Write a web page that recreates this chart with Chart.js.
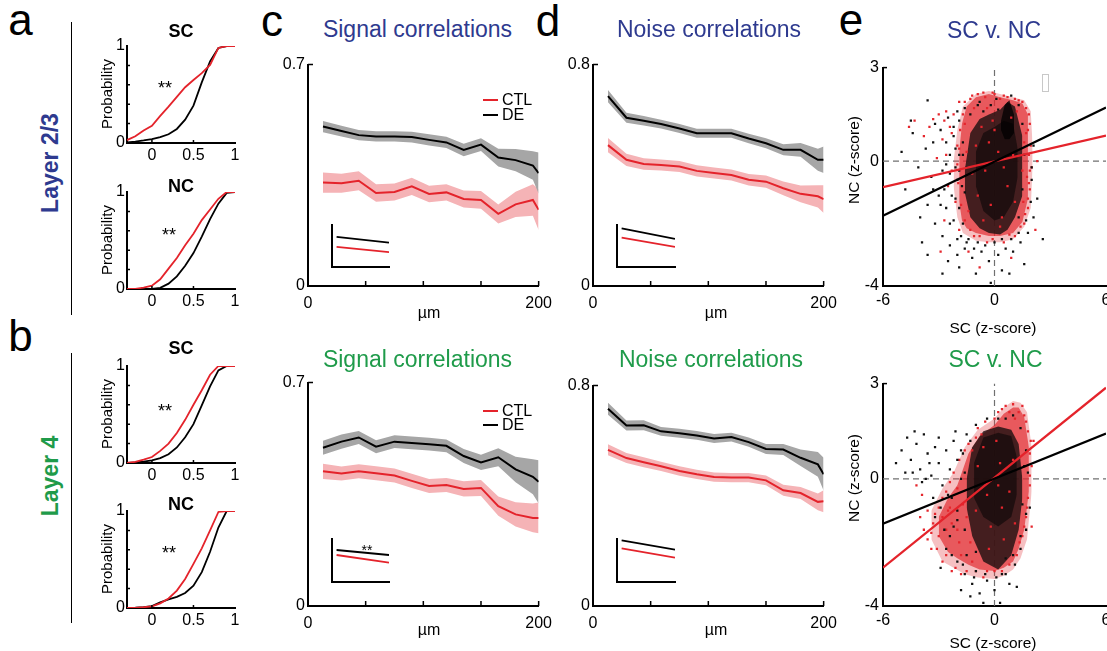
<!DOCTYPE html>
<html>
<head>
<meta charset="utf-8">
<script src="https://cdn.jsdelivr.net/npm/chart.js@4.4.1/dist/chart.umd.min.js"></script>
<style>
body { margin: 0; background: #fff; overflow: hidden; }
#fig { position: relative; width: 1107px; height: 651px; overflow: hidden; background: #fff;
       font-family: 'Liberation Sans', Arial, Helvetica, sans-serif; color: #000; }
.t { position: absolute; white-space: nowrap; line-height: 1; }
canvas { position: absolute; }
.vline { position: absolute; width: 1px; background: #000; }
</style>
</head>
<body>
<div id="fig"></div>
<script>
// ---- CDF 数据 (a, b) ----
const cdfX = [-0.3, -0.2, -0.1, 0, 0.1, 0.2, 0.3, 0.4, 0.5, 0.6, 0.7, 0.8, 0.9, 1.0];
const cdfScCtlL23 = [0.03, 0.07, 0.13, 0.178, 0.28, 0.375, 0.475, 0.575, 0.65, 0.72, 0.805, 0.98, 1, 1];
const cdfScDeL23  = [0.005, 0.015, 0.027, 0.041, 0.06, 0.09, 0.145, 0.24, 0.385, 0.625, 0.84, 0.98, 1, 1];
const cdfNcCtlL23 = [0, 0.002, 0.015, 0.035, 0.1, 0.21, 0.32, 0.45, 0.57, 0.71, 0.82, 0.93, 1, 1];
const cdfNcDeL23  = [0, 0, 0, 0.002, 0.012, 0.055, 0.13, 0.24, 0.37, 0.54, 0.72, 0.88, 0.99, 1];
const cdfScCtlL4  = [0, 0.012, 0.035, 0.062, 0.125, 0.2, 0.31, 0.445, 0.6, 0.75, 0.91, 1, 1, 1];
const cdfScDeL4   = [0, 0.005, 0.015, 0.028, 0.05, 0.09, 0.16, 0.265, 0.4, 0.595, 0.79, 0.955, 1, 1];
const cdfNcCtlL4  = [0, 0.002, 0.008, 0.017, 0.048, 0.098, 0.18, 0.3, 0.455, 0.615, 0.8, 0.99, 1, 1];
const cdfNcDeL4   = [0, 0.003, 0.01, 0.02, 0.058, 0.088, 0.115, 0.155, 0.23, 0.37, 0.58, 0.83, 1, 1];

// ---- 距离相关 (c, d) ----
const distUm = [13, 29, 44, 59, 75, 90, 105, 120, 135, 150, 165, 180, 195, 200];
const sigDeL23     = [0.504, 0.490, 0.477, 0.473, 0.473, 0.471, 0.462, 0.454, 0.430, 0.447, 0.406, 0.398, 0.381, 0.357];
const sigDeL23Err  = [0.018, 0.017, 0.016, 0.016, 0.016, 0.017, 0.018, 0.018, 0.02, 0.02, 0.028, 0.035, 0.045, 0.065];
const sigCtlL23    = [0.327, 0.325, 0.333, 0.294, 0.297, 0.315, 0.291, 0.296, 0.275, 0.272, 0.228, 0.258, 0.272, 0.241];
const sigCtlL23Err = [0.032, 0.03, 0.03, 0.028, 0.027, 0.027, 0.026, 0.026, 0.027, 0.028, 0.03, 0.04, 0.05, 0.065];
const noiseDeL23     = [0.686, 0.608, 0.597, 0.585, 0.569, 0.552, 0.552, 0.552, 0.533, 0.516, 0.492, 0.492, 0.456, 0.456];
const noiseDeL23Err  = [0.022, 0.018, 0.017, 0.016, 0.016, 0.016, 0.016, 0.016, 0.017, 0.018, 0.02, 0.025, 0.04, 0.048];
const noiseCtlL23    = [0.509, 0.456, 0.441, 0.437, 0.432, 0.416, 0.408, 0.401, 0.384, 0.377, 0.353, 0.333, 0.324, 0.314];
const noiseCtlL23Err = [0.026, 0.022, 0.021, 0.02, 0.02, 0.02, 0.02, 0.02, 0.021, 0.022, 0.025, 0.03, 0.04, 0.05];
const sigDeL4     = [0.496, 0.515, 0.528, 0.499, 0.515, 0.511, 0.507, 0.502, 0.470, 0.450, 0.466, 0.428, 0.405, 0.389];
const sigDeL4Err  = [0.022, 0.022, 0.02, 0.02, 0.02, 0.02, 0.02, 0.02, 0.022, 0.024, 0.028, 0.04, 0.055, 0.068];
const sigCtlL4    = [0.422, 0.415, 0.422, 0.416, 0.409, 0.392, 0.376, 0.379, 0.367, 0.370, 0.313, 0.287, 0.276, 0.276];
const sigCtlL4Err = [0.024, 0.022, 0.022, 0.022, 0.022, 0.022, 0.022, 0.022, 0.024, 0.025, 0.03, 0.038, 0.045, 0.048];
const noiseDeL4     = [0.716, 0.655, 0.656, 0.634, 0.627, 0.619, 0.608, 0.613, 0.595, 0.570, 0.568, 0.538, 0.514, 0.478];
const noiseDeL4Err  = [0.022, 0.018, 0.018, 0.016, 0.016, 0.016, 0.016, 0.016, 0.017, 0.018, 0.02, 0.03, 0.045, 0.06];
const noiseCtlL4    = [0.567, 0.537, 0.522, 0.507, 0.490, 0.478, 0.468, 0.466, 0.466, 0.456, 0.420, 0.410, 0.378, 0.380];
const noiseCtlL4Err = [0.02, 0.018, 0.018, 0.017, 0.017, 0.017, 0.017, 0.017, 0.017, 0.018, 0.02, 0.022, 0.03, 0.04];

// 小插图 (斜率示意)
const insetX = [0.08, 1];
const insetSigL23   = { de: [0.716, 0.58], ctl: [0.48, 0.355] };
const insetNoiseL23 = { de: [0.92, 0.67], ctl: [0.70, 0.48] };
const insetSigL4    = { de: [0.744, 0.628], ctl: [0.628, 0.449] };
const insetNoiseL4  = { de: [0.967, 0.753], ctl: [0.781, 0.565] };

// ---- SC v. NC 散点 (e) ----
const fitX = [-6, 6];
const fitDeL23 = [-1.75, 1.72];
const fitCtlL23 = [-0.83, 0.82];
const fitDeL4 = [-1.41, 1.43];
const fitCtlL4 = [-2.79, 2.87];

// 点密度轮廓 (x, 上沿, 下沿)，由外到内
const envOutL23X  = [-2.2, -2.0, -1.7, -1.0, -0.3, 0.3, 1.0, 1.6, 1.95, 2.05];
const envOutL23Hi = [0.0, 1.0, 1.75, 2.15, 2.25, 2.15, 2.05, 1.95, 1.6, 0.5];
const envOutL23Lo = [-0.8, -1.8, -2.3, -2.55, -2.6, -2.6, -2.5, -2.1, -1.5, -0.2];
const envCtlL23X  = [-1.9, -1.75, -1.5, -1.0, -0.3, 0.3, 1.0, 1.5, 1.8];
const envCtlL23Hi = [0.3, 1.2, 1.75, 2.05, 2.15, 2.05, 1.95, 1.85, 1.5];
const envCtlL23Lo = [-1.3, -1.9, -2.15, -2.3, -2.4, -2.4, -2.3, -1.95, -1.2];
const coreDeL23X  = [-1.6, -1.3, -0.8, -0.3, 0.3, 0.7, 1.1, 1.5];
const coreDeL23Hi = [-0.3, 0.9, 1.35, 1.5, 1.65, 1.9, 1.75, 0.8];
const coreDeL23Lo = [-1.0, -1.8, -2.15, -2.3, -2.35, -2.2, -1.8, -1.1];
const innerDeL23X  = [-1.0, -0.6, 0.0, 0.5, 1.0, 1.25];
const innerDeL23Hi = [0.3, 0.9, 1.1, 1.3, 1.2, 0.4];
const innerDeL23Lo = [-0.8, -1.6, -1.9, -1.8, -1.3, -0.5];
const spikeDeL23X  = [0.35, 0.55, 0.8, 1.05];
const spikeDeL23Hi = [1.3, 1.8, 1.95, 1.5];
const spikeDeL23Lo = [1.0, 0.7, 0.7, 0.9];

const envOutL4X  = [-3.4, -2.8, -2.2, -1.6, -0.9, 0.0, 0.5, 1.0, 1.4, 1.75, 2.0];
const envOutL4Hi = [-1.0, -0.3, 0.2, 1.0, 1.55, 1.9, 2.25, 2.45, 2.4, 2.1, 1.0];
const envOutL4Lo = [-1.9, -2.6, -2.8, -3.0, -3.1, -3.15, -3.05, -2.85, -2.5, -1.9, -0.4];
const envCtlL4X  = [-3.0, -2.5, -2.0, -1.4, -0.8, 0.0, 0.5, 1.0, 1.3, 1.6, 1.85];
const envCtlL4Hi = [-1.2, -0.6, -0.2, 0.8, 1.35, 1.7, 2.05, 2.25, 2.25, 1.95, 1.0];
const envCtlL4Lo = [-1.8, -2.3, -2.5, -2.7, -2.85, -2.9, -2.8, -2.6, -2.2, -1.6, -0.4];
const coreDeL4X  = [-1.5, -1.2, -0.6, 0.2, 0.9, 1.3, 1.5];
const coreDeL4Hi = [0.0, 1.0, 1.5, 1.65, 1.55, 1.1, 0.0];
const coreDeL4Lo = [-0.9, -1.8, -2.6, -2.85, -2.4, -1.6, -0.6];
const innerDeL4X  = [-1.1, -0.6, 0.2, 0.9, 1.2];
const innerDeL4Hi = [0.5, 1.3, 1.45, 1.35, 0.7];
const innerDeL4Lo = [-0.6, -1.2, -1.5, -1.2, -0.5];

const dotsDeL23 = [[-3.6,1.95],[-4.5,1.3],[-3.2,1.2],[-2.9,1.0],[-2.5,1.4],[-2.2,0.8],[-3.7,0.4],[-4.1,-0.2],[-3.4,-0.5],[-2.8,-0.3],
  [-2.4,0.2],[-2.0,-0.6],[-3.0,-1.1],[-3.6,-1.4],[-4.0,-1.8],[-2.6,-1.5],[-2.2,-1.9],[-3.2,-2.0],[-2.8,-2.4],[-3.9,-2.6],
  [-2.4,-2.7],[-2.0,-3.0],[-1.6,-2.8],[-1.2,-3.1],[-0.7,-2.9],[-0.3,-3.2],[0.2,-3.0],[0.6,-2.8],[1.0,-2.9],[1.4,-2.6],
  [1.8,-2.3],[2.1,-1.8],[2.3,-1.2],[2.0,-0.6],[-1.0,-3.6],[-2.8,-3.6],[1.6,-3.3],[0.8,-3.6],[-0.2,-3.9],[-4.8,-0.9],
  [-5.0,0.3],[-2.0,1.6],[-1.8,-2.4],[-1.4,-2.5],[-4.4,0.9],[-3.3,0.6],[-2.6,0.6],[-1.9,0.2],[-2.3,-1.1],[-1.9,-1.5],
  [2.6,-2.5],[-3.6,-3.0],[-1.9,-3.4],[0.4,-3.5],[-0.8,1.9],[-0.2,1.8],[0.2,1.65],[-1.3,1.5],[1.5,1.2],[1.6,0.2],
  [1.5,-0.9],[1.3,-1.8],[-1.6,-1.0],[-1.5,-0.2],[-1.7,0.6],[-0.6,1.6],[-2.1,-0.2],[-2.7,-0.9],[-1.7,-2.0],[0.0,-2.6],
  [-1.9,1.3],[-2.2,1.1],[-2.1,0.4],[-2.4,-0.4],[-2.1,-1.2],[-2.4,-2.0],[-2.0,-2.5],[-1.5,-2.6],[-0.9,-2.6],[-0.5,-2.7],
  [0.4,-2.5],[0.9,-2.5],[1.3,-2.3],[1.7,-1.9],[1.95,-1.3],[2.0,-0.2],[2.1,0.5],[-1.9,-0.3],[-1.75,-0.8],[-1.7,0.2],
  [-1.6,1.7],[-0.9,1.8],[0.1,2.0],[0.9,2.1],[1.3,1.8],[-2.6,-0.1],[-2.9,-1.4],[-3.3,-0.9],[-2.5,-3.2],[-1.1,-2.8]];
const dotsCtlL23 = [[-3.0,1.5],[-3.3,1.35],[-2.7,1.3],[-2.4,1.1],[-2.8,0.7],[-3.5,1.1],[-2.2,1.5],[-1.9,1.9],[-2.6,0.2],[-3.1,0.1],
  [-2.3,-0.3],[-2.5,-0.8],[-2.1,-1.3],[-2.7,-1.9],[-1.9,-2.2],[-4.3,1.3],[-4.6,1.1],[-3.8,0.8],[-1.2,2.1],[-0.6,2.2],
  [0.0,2.15],[0.5,2.1],[1.1,2.0],[1.5,1.9],[1.9,1.2],[1.95,0.5],[2.0,-0.2],[1.9,-0.9],[1.8,-1.5],[1.6,-2.0],
  [1.1,-2.4],[0.5,-2.6],[-0.4,-2.6],[-1.1,-2.4],[2.2,-2.2],[-1.4,-2.9],[0.9,-3.1],[-0.8,-3.4],[2.3,0.0],[-2.9,-2.9],
  [-1.0,0.5],[-0.5,-0.3],[0.2,0.3],[0.7,-0.8],[-0.2,-1.4],[0.4,-1.8],[-0.9,-1.1],[1.0,0.2],[0.0,1.0],[-0.7,1.1],
  [0.5,-0.2],[1.1,-1.3],[-1.2,-0.4],[-0.3,0.6],[1.7,0.9],[1.75,-0.5],[-1.6,1.2],[-2.0,0.5],
  [-1.6,1.9],[-1.3,2.0],[-0.9,2.15],[-0.5,2.05],[-0.1,2.2],[0.3,2.0],[0.7,2.05],[1.3,1.95],[1.7,1.7],[1.85,1.5],
  [1.8,1.0],[1.85,0.2],[1.9,-0.3],[1.85,-0.7],[1.8,-1.2],[1.65,-1.7],[1.4,-2.1],[-1.85,1.0],[-1.9,0.4],[-2.0,-0.1],
  [-1.95,-0.7],[-1.8,-1.4],[-1.6,-1.9],[-1.3,-2.2],[-0.8,-2.4],[-0.1,-2.5],[0.8,-2.35],[-2.3,0.9],[-2.6,1.6],[-1.7,1.5],
  [1.2,1.6],[0.9,1.4],[-0.4,1.7],[-1.1,1.7],[1.6,0.6],[1.5,-0.3],[1.55,-1.3],[-1.5,0.3],[-1.4,-1.6],[-0.6,-1.9],
  [0.3,-2.1],[-0.1,1.3]];
const dotsDeL4 = [[-5.0,0.9],[-4.7,1.3],[-4.5,0.6],[-4.2,1.1],[-4.0,0.3],[-3.8,1.4],[-3.6,0.8],[-3.4,0.1],[-3.2,1.0],[-3.0,0.5],
  [-2.8,-0.2],[-2.6,0.9],[-2.4,0.3],[-2.2,1.2],[-2.0,0.6],[-1.8,0.0],[-4.8,0.2],[-3.9,-0.1],[-5.3,0.5],[-4.3,1.5],
  [-3.0,1.3],[-2.5,-0.5],[-2.2,-1.5],[-2.6,-2.2],[-2.0,-2.6],[-1.6,-3.0],[-1.2,-3.3],[-0.8,-3.6],[-0.4,-3.2],[0.0,-3.5],
  [0.4,-3.0],[0.8,-3.3],[1.1,-2.7],[1.4,-2.2],[1.7,-1.6],[-1.8,-3.5],[-0.6,-3.9],[0.3,-3.9],[1.2,-3.4],[-2.9,-2.8],
  [-1.0,-2.9],[0.6,-2.5],[-1.5,-2.4],[1.9,-0.9],[-3.2,-1.2],[-2.9,-0.9],[0.6,1.9],[1.0,2.0],[1.4,1.6],[1.6,0.4],
  [1.5,-0.8],[-2.0,-1.0],[-1.6,-1.6],[-2.4,-1.8],[-1.0,-2.3],[0.2,1.9],[-1.7,0.8],[-3.5,0.5],[-4.4,0.2],[-1.3,-3.7],
  [-1.8,0.9],[-1.5,1.4],[-1.0,1.7],[-0.4,1.9],[-2.3,-0.6],[-2.0,-1.3],[-2.7,-1.6],[-2.3,-2.4],[-1.7,-2.7],[-1.1,-3.1],
  [-0.5,-3.0],[0.1,-3.1],[0.6,-3.0],[1.0,-2.4],[1.4,-1.8],[1.7,-1.1],[1.8,0.2],[1.7,0.9],[-1.6,0.2],[-1.4,-0.6],
  [-3.3,-0.6],[-3.7,0.0],[-2.1,1.5],[-1.3,1.2]];
const dotsCtlL4 = [[0.2,2.1],[0.6,2.3],[1.0,2.35],[1.3,2.1],[1.6,2.0],[1.8,1.5],[1.9,0.8],[1.9,0.1],[1.8,-0.6],[1.7,-1.2],
  [1.5,-1.8],[1.2,-2.4],[0.8,-2.7],[-0.5,1.8],[-1.0,1.3],[-1.6,0.9],[-2.2,0.2],[-2.6,-0.4],[-3.0,-0.9],[-3.3,-1.4],
  [-3.0,-1.8],[-2.6,-2.4],[-2.1,-2.8],[-1.5,-2.9],[-3.6,-1.0],[-3.8,-1.6],[-2.0,-0.3],[-1.7,-0.8],[-2.8,-1.2],[-2.3,-1.4],
  [-1.9,-2.0],[-3.4,-2.2],[-3.9,-0.5],[-1.2,-2.6],[0.0,-2.9],[-0.6,-3.1],[2.1,1.2],[2.0,-1.5],[-0.9,0.4],[-0.4,-0.5],
  [0.3,0.5],[0.8,-0.4],[-0.2,-1.5],[0.5,-1.9],[-1.0,-1.0],[1.0,0.6],[0.1,1.2],[-0.6,1.0],[0.4,-0.9],[1.1,-1.4],
  [-0.3,-2.2],[0.2,-0.2],[-4.2,-0.2],[-2.4,-0.9],
  [0.0,1.9],[0.4,2.2],[0.8,2.1],[1.1,1.9],[1.5,2.3],[1.7,1.8],[1.95,1.2],[2.0,0.4],[1.9,-0.2],[1.75,-0.9],
  [1.6,-1.5],[1.35,-2.0],[-0.9,1.6],[-1.4,1.1],[-1.9,0.6],[-2.4,-0.1],[-2.8,-0.6],[-3.2,-1.1],[-3.4,-1.7],[-3.1,-2.2],
  [-2.8,-2.6],[-2.3,-2.9],[-1.8,-3.0],[-1.0,-2.9],[-0.4,-2.9],[0.4,-2.9],[-2.6,-1.6],[-2.0,-1.6],[-1.5,-1.2],[-2.5,-1.0],
  [-1.8,-2.4],[-1.3,-2.0],[-3.6,-1.9],[-4.0,-1.2],[-1.2,0.9],[-0.7,1.4]];

const RED = '#e4232b';
const BLUE = '#2e3a8f';
const GREEN = '#1f9b4a';
const FONT = "'Liberation Sans', Arial, Helvetica, sans-serif";

Chart.defaults.font.family = FONT;
Chart.defaults.color = '#000';

const fig = document.getElementById('fig');

// 文字
function txt(s, cx, cy, size, o = {}) {
    const d = document.createElement('div');
    d.className = 't';
    d.textContent = s;
    d.style.left = cx + 'px';
    d.style.top = cy + 'px';
    d.style.fontSize = size + 'px';
    if (o.bold) d.style.fontWeight = 'bold';
    if (o.color) d.style.color = o.color;
    let tr = o.left ? 'translate(0,-50%)' : 'translate(-50%,-50%)';
    if (o.rot) tr += ' rotate(-90deg)';
    d.style.transform = tr;
    fig.appendChild(d);
}

// 向内的刻度线
const inTicks = {
    id: 'inTicks',
    afterDraw(chart, args, o) {
        const { ctx, chartArea: a, scales } = chart;
        const len = o.len || 4;
        ctx.save();
        ctx.strokeStyle = '#000';
        ctx.lineWidth = 1.5;
        ctx.beginPath();
        (o.x || []).forEach(v => {
            const p = scales.x.getPixelForValue(v);
            ctx.moveTo(p, a.bottom);
            ctx.lineTo(p, a.bottom - len);
        });
        (o.y || []).forEach(v => {
            const p = scales.y.getPixelForValue(v);
            ctx.moveTo(a.left, p);
            ctx.lineTo(a.left + len, p);
        });
        ctx.stroke();
        ctx.restore();
    }
};

function axis(id, range, labels, size, fs, pad) {
    return {
        type: 'linear', min: range[0], max: range[1],
        grid: { display: false, drawTicks: false },
        border: { display: true, color: '#000', width: 2 },
        ticks: { display: labels.length > 0, font: { size: fs }, color: '#000', padding: pad,
                 maxRotation: 0, autoSkip: false, callback: v => String(v) },
        afterBuildTicks: s => { s.ticks = labels.map(v => ({ value: v })); },
        afterFit: s => { if (id === 'x') s.height = size; else s.width = size; }
    };
}

// box = 绘图区在页面上的位置
function chartAt(box, datasets, sc) {
    const padL = sc.padL ?? 40, padB = sc.padB ?? 32, padT = 12, padR = 16;
    const cv = document.createElement('canvas');
    cv.width = Math.round(box.w + padL + padR);
    cv.height = Math.round(box.h + padT + padB);
    cv.style.left = (box.l - padL) + 'px';
    cv.style.top = (box.t - padT) + 'px';
    fig.appendChild(cv);
    return new Chart(cv, {
        type: 'line',
        data: { datasets },
        options: {
            responsive: false, animation: false, events: [],
            layout: { padding: { top: padT, right: padR, left: 0, bottom: 0 } },
            plugins: { legend: { display: false }, tooltip: { enabled: false },
                       inTicks: { x: sc.xt, y: sc.yt, len: sc.len } },
            scales: {
                x: axis('x', sc.x, sc.xl || [], padB, sc.fs || 16, sc.xpad ?? 4),
                y: axis('y', sc.y, sc.yl || [], padL, sc.fs || 16, sc.ypad ?? 4)
            }
        },
        plugins: [inTicks]
    });
}

const pts = (xs, ys) => xs.map((x, i) => ({ x, y: ys[i] }));

function line(xs, ys, color, w, order) {
    return { data: pts(xs, ys), borderColor: color, borderWidth: w, pointRadius: 0,
             fill: false, tension: 0, order: order ?? 1 };
}

// 上下边界之间填充
function area(xs, hi, lo, color, order) {
    return [
        { data: pts(xs, hi), borderColor: 'rgba(0,0,0,0)', borderWidth: 0, pointRadius: 0,
          fill: '+1', backgroundColor: color, tension: 0, order },
        { data: pts(xs, lo), borderColor: 'rgba(0,0,0,0)', borderWidth: 0, pointRadius: 0,
          fill: false, tension: 0, order }
    ];
}

function dots(list, color, order) {
    return { data: list.map(p => ({ x: p[0], y: p[1] })), showLine: false, pointStyle: 'rect',
             pointRadius: 1.6, pointBackgroundColor: color, pointBorderWidth: 0, order };
}

// ---- a, b: CDF ----
function cdfPanel(top, ctl, de) {
    chartAt({ l: 126.7, t: top, w: 108.3, h: 97 }, [
        line(cdfX, de, '#000', 1.8, 2),
        line(cdfX, ctl, RED, 1.8, 1)
    ], { x: [-0.3, 1], y: [0, 1], xl: [0, 0.5, 1], yl: [0, 1], xt: [0, 0.5], yt: [0.2, 0.4, 0.6, 0.8], len: 3,
         padL: 30, padB: 26, fs: 16, xpad: 3, ypad: 2 });
}
cdfPanel(46, cdfScCtlL23, cdfScDeL23);
cdfPanel(191.7, cdfNcCtlL23, cdfNcDeL23);
cdfPanel(366, cdfScCtlL4, cdfScDeL4);
cdfPanel(510.7, cdfNcCtlL4, cdfNcDeL4);

// ---- c, d: 距离曲线 ----
function distPanel(box, ymax, de, deErr, ctl, ctlErr) {
    const up = (m, e) => m.map((v, i) => v + e[i]);
    const dn = (m, e) => m.map((v, i) => v - e[i]);
    chartAt(box, [
        line(distUm, de, '#000', 2, 1),
        line(distUm, ctl, RED, 2, 2),
        ...area(distUm, up(de, deErr), dn(de, deErr), '#a6a6a6', 5),
        ...area(distUm, up(ctl, ctlErr), dn(ctl, ctlErr), '#f5b3b6', 6)
    ], { x: [0, 200], y: [0, ymax], xl: [0, 200], yl: [0, ymax], xt: [50, 100, 150, 200], yt: [ymax], len: 5,
         padL: 40, padB: 34, fs: 16, xpad: 8, ypad: 3 });
}
distPanel({ l: 307.7, t: 64.3, w: 235.6, h: 222.4 }, 0.7, sigDeL23, sigDeL23Err, sigCtlL23, sigCtlL23Err);
distPanel({ l: 593.3, t: 64.3, w: 236, h: 222.4 }, 0.8, noiseDeL23, noiseDeL23Err, noiseCtlL23, noiseCtlL23Err);
distPanel({ l: 307.7, t: 382.3, w: 235.6, h: 223.7 }, 0.7, sigDeL4, sigDeL4Err, sigCtlL4, sigCtlL4Err);
distPanel({ l: 593.3, t: 385, w: 236, h: 221 }, 0.8, noiseDeL4, noiseDeL4Err, noiseCtlL4, noiseCtlL4Err);

function insetPanel(box, v) {
    chartAt(box, [
        line(insetX, v.de, '#000', 1.8, 1),
        line(insetX, v.ctl, RED, 1.8, 2)
    ], { x: [0, 1], y: [0, 1], padL: 4, padB: 4 });
}
insetPanel({ l: 331.7, t: 225, w: 57.3, h: 42.3 }, insetSigL23);
insetPanel({ l: 617.3, t: 225, w: 58.4, h: 42.3 }, insetNoiseL23);
insetPanel({ l: 331.7, t: 539, w: 57.3, h: 43 }, insetSigL4);
insetPanel({ l: 617.3, t: 539.3, w: 58.4, h: 43 }, insetNoiseL4);

// ---- e: 散点 ----
const scRange = [-6, 6];
const ncRange = [-4, 3];
function scatterPanel(box, layers, dDe, dCtl, fDe, fCtl) {
    const fills = ['rgba(226,60,64,0.32)', 'rgba(226,40,45,0.68)', 'rgba(28,16,16,0.8)',
                   'rgba(10,6,6,0.6)', 'rgba(0,0,0,0.75)'];
    const ds = [
        line(fitX, fDe, '#000', 2.2, 0),
        line(fitX, fCtl, RED, 2.2, 0),
        dots(dDe, '#111', 2),
        dots(dCtl, '#e5262d', 3)
    ];
    layers.forEach((L, i) => { if (L) ds.push(...area(L[0], L[1], L[2], fills[i], 9 - i)); });
    ds.push({ ...line([0, 0], ncRange, '#707070', 1.2, 12), borderDash: [6, 4] });
    ds.push({ ...line(scRange, [0, 0], '#707070', 1.2, 12), borderDash: [6, 4] });
    chartAt(box, ds, { x: scRange, y: ncRange, xl: [-6, 0, 6], yl: [-4, 0, 3], yt: [3], len: 4,
                       padL: 40, padB: 30, fs: 16, xpad: 5, ypad: 4 });
}
scatterPanel({ l: 883.3, t: 65.7, w: 222.7, h: 220.3 },
    [[envOutL23X, envOutL23Hi, envOutL23Lo], [envCtlL23X, envCtlL23Hi, envCtlL23Lo],
     [coreDeL23X, coreDeL23Hi, coreDeL23Lo], [innerDeL23X, innerDeL23Hi, innerDeL23Lo],
     [spikeDeL23X, spikeDeL23Hi, spikeDeL23Lo]],
    dotsDeL23, dotsCtlL23, fitDeL23, fitCtlL23);
scatterPanel({ l: 882.7, t: 382.3, w: 222.7, h: 223.7 },
    [[envOutL4X, envOutL4Hi, envOutL4Lo], [envCtlL4X, envCtlL4Hi, envCtlL4Lo],
     [coreDeL4X, coreDeL4Hi, coreDeL4Lo], [innerDeL4X, innerDeL4Hi, innerDeL4Lo], null],
    dotsDeL4, dotsCtlL4, fitDeL4, fitCtlL4);

// ---- 文字与装饰 ----
txt('a', 20.5, 20.2, 44);
txt('b', 20.5, 336, 44);
txt('c', 272, 21, 44);
txt('d', 548, 21, 44);
txt('e', 851, 20, 44);

txt('Layer 2/3', 50, 163, 23, { bold: true, color: BLUE, rot: true });
txt('Layer 4', 50, 476, 23, { bold: true, color: GREEN, rot: true });

[[31.3, 'SC'], [186, 'NC'], [347.5, 'SC'], [504, 'NC']].forEach(([y, s]) => txt(s, 181, y, 18, { bold: true }));
[94.3, 240.3, 414.3, 559.2].forEach(y => txt('Probability', 106, y, 15, { rot: true }));
txt('**', 165, 88, 18);
txt('**', 169, 235, 18);
txt('**', 165, 411, 18);
txt('**', 169, 552.6, 18);
txt('**', 367, 549.5, 14);

txt('Signal correlations', 417.5, 28.5, 23, { color: BLUE });
txt('Noise correlations', 709, 29, 23, { color: BLUE });
txt('SC v. NC', 994, 29.5, 23, { color: BLUE });
txt('Signal correlations', 417.5, 359, 23, { color: GREEN });
txt('Noise correlations', 711, 358.5, 23, { color: GREEN });
txt('SC v. NC', 995.5, 359, 23, { color: GREEN });

txt('µm', 429, 313, 16);
txt('µm', 716, 313, 16);
txt('µm', 429, 630, 16);
txt('µm', 716, 630, 16);

txt('NC (z-score)', 854, 160, 15.5, { rot: true });
txt('NC (z-score)', 854, 478, 15.5, { rot: true });
txt('SC (z-score)', 993, 328, 15.5);
txt('SC (z-score)', 993, 643, 15.5);

// 图例
function legend(y1, y2) {
    [[y1, RED, 'CTL'], [y2, '#000', 'DE']].forEach(([y, c, s]) => {
        const l = document.createElement('div');
        l.style.cssText = `position:absolute;left:483px;top:${y - 1}px;width:15px;height:2px;background:${c}`;
        fig.appendChild(l);
        txt(s, 502, y + 0.5, 16, { left: true });
    });
}
legend(99.5, 114.5);
legend(410.5, 424.5);

function vline(x, y1, y2) {
    const d = document.createElement('div');
    d.className = 'vline';
    d.style.left = x + 'px';
    d.style.top = y1 + 'px';
    d.style.height = (y2 - y1) + 'px';
    fig.appendChild(d);
}
vline(70.5, 21.7, 315);
vline(70.5, 353.3, 623.3);

const box = document.createElement('div');
box.style.cssText = 'position:absolute;left:1041.5px;top:74px;width:5px;height:16px;border:1px solid #c8c8c8';
fig.appendChild(box);
</script>
</body>
</html>
